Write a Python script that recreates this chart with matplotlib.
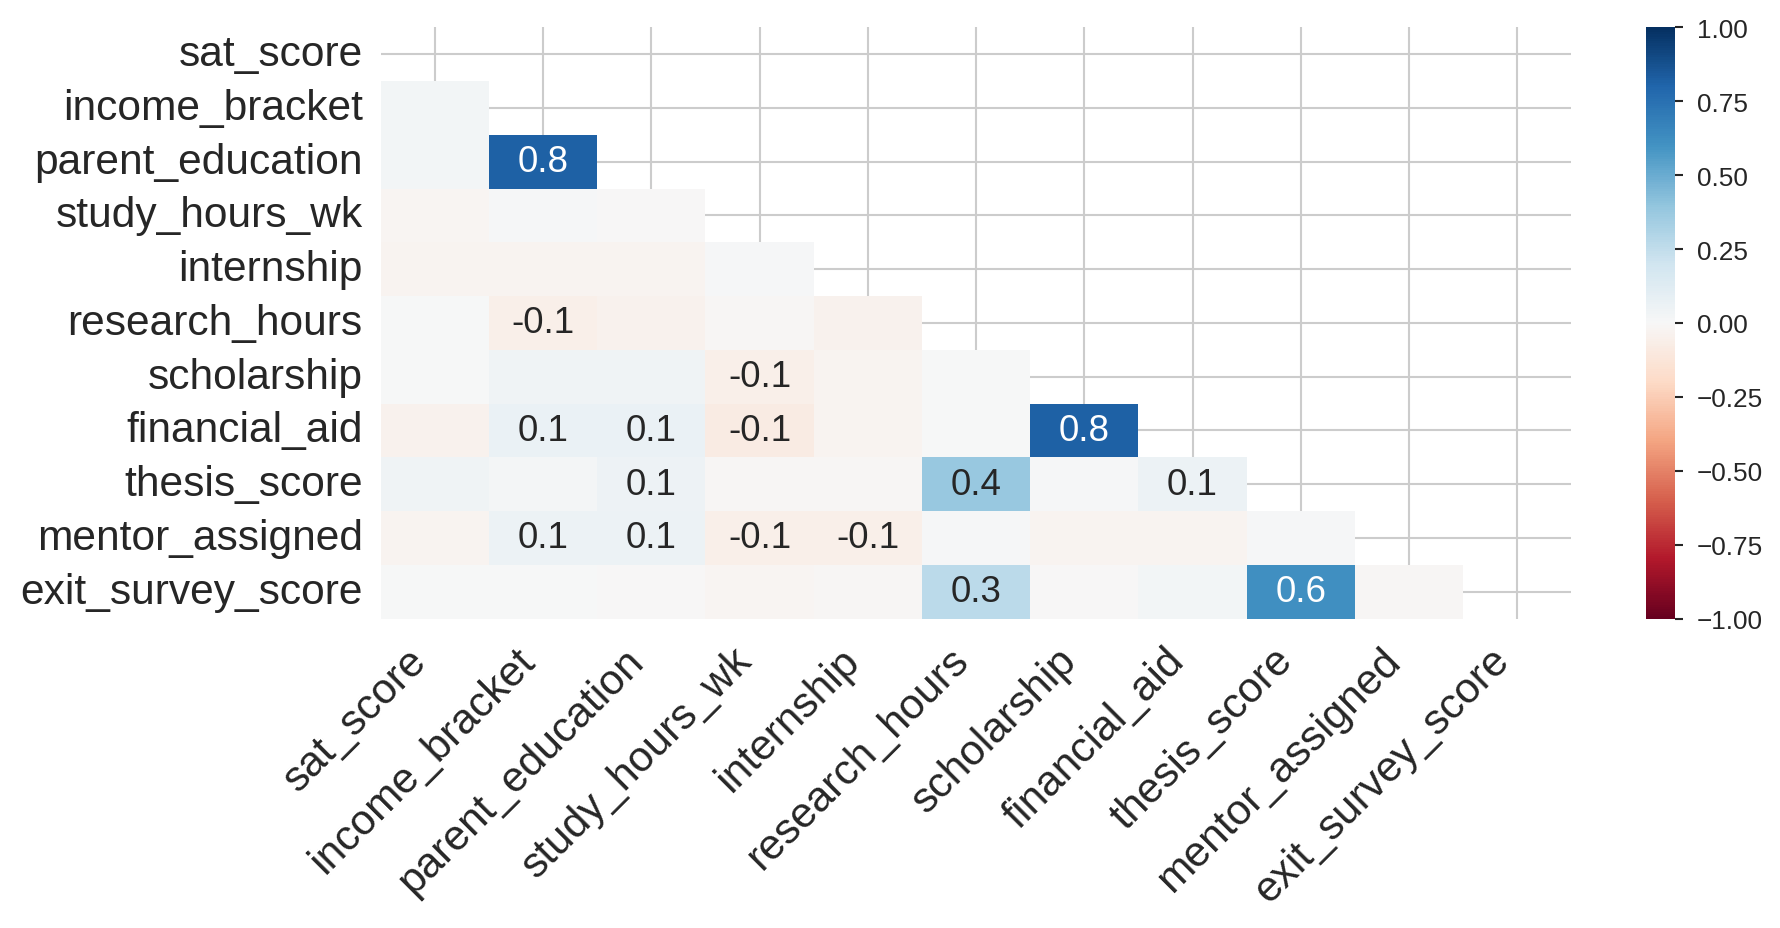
import numpy as np
import matplotlib
matplotlib.use("Agg")
import matplotlib.pyplot as plt
import seaborn as sns


COLUMNS = [
    "sat_score", "income_bracket", "parent_education", "study_hours_wk",
    "internship", "research_hours", "scholarship", "financial_aid",
    "thesis_score", "mentor_assigned", "exit_survey_score",
]

# nullity correlation, lower triangle only (row i holds columns 0..i-1)
CORR_ROWS = [
    [],
    [0.03],
    [0.03, 0.82],
    [-0.02, 0.01, -0.005],
    [-0.03, -0.03, -0.03, 0.01],
    [0.0, -0.055, -0.045, -0.01, -0.04],
    [0.005, 0.04, 0.04, -0.06, -0.03, 0.0],
    [-0.04, 0.07, 0.07, -0.08, -0.03, 0.0, 0.82],
    [0.04, 0.02, 0.05, -0.01, -0.015, 0.38, 0.01, 0.06],
    [-0.03, 0.06, 0.06, -0.06, -0.055, 0.01, -0.03, -0.03, 0.01],
    [0.0, 0.0, -0.005, -0.02, -0.01, 0.27, -0.005, 0.03, 0.61, -0.015],
]


def build_matrix(rows):
    n = len(rows)
    mat = np.eye(n)
    for i, row in enumerate(rows):
        for j, v in enumerate(row):
            mat[i, j] = v
            mat[j, i] = v
    return mat


def cell_label(t):
    # same trimming rules as missingno's heatmap
    if 0.95 <= t < 1:
        return "<1"
    if -1 < t <= -0.95:
        return ">-1"
    if t == 1:
        return "1"
    if t == -1:
        return "-1"
    if -0.05 < t < 0.05:
        return ""
    return str(round(t, 1))


def main():
    sns.set_style("whitegrid")
    plt.rcParams["font.family"] = ["Liberation Sans", "DejaVu Sans"]

    corr = build_matrix(CORR_ROWS)
    mask = np.zeros_like(corr, dtype=bool)
    mask[np.triu_indices_from(mask)] = True
    labels = np.vectorize(cell_label)(corr)

    fig = plt.figure(figsize=(17.8, 9.29), dpi=100)
    ax = fig.add_axes([380.7 / 1780, 1 - 619.5 / 929, 1190.7 / 1780, 591.2 / 929])
    cax = fig.add_axes([1646 / 1780, 1 - 619.5 / 929, 29 / 1780, 591.2 / 929])

    sns.heatmap(corr, mask=mask, cmap="RdBu", vmin=-1, vmax=1, ax=ax, cbar_ax=cax,
                annot=labels, fmt="", annot_kws={"size": 26.5},
                xticklabels=COLUMNS, yticklabels=COLUMNS)

    ax.xaxis.tick_bottom()
    ax.set_xticklabels(COLUMNS, rotation=45, ha="right", fontsize=30.6, color="#262626")
    ax.set_yticklabels(COLUMNS, rotation=0, fontsize=30.6, color="#262626")
    ax.xaxis.set_ticks_position("none")
    ax.yaxis.set_ticks_position("none")
    ax.tick_params(axis="y", pad=9.5)
    ax.tick_params(axis="x", pad=12)
    ax.patch.set_visible(False)
    ax.grid(True, color="#cccccc", linewidth=1.5)
    ax.set_axisbelow(True)

    cax.tick_params(labelsize=18.8, length=6, width=1.5, colors="#262626", pad=9.5)

    fig.savefig("out.png", dpi=100, facecolor="white")


if __name__ == "__main__":
    main()
